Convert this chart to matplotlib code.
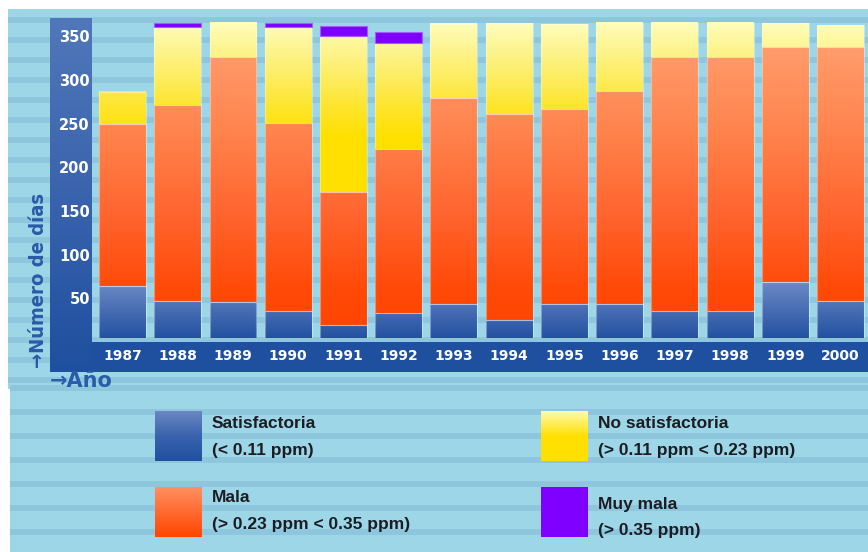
import numpy as np
import matplotlib
matplotlib.use("Agg")
import matplotlib.pyplot as plt
from matplotlib.colors import LinearSegmentedColormap
from matplotlib.patches import Rectangle

# Días por año según la calidad del aire
years = ["1987", "1988", "1989", "1990", "1991", "1992", "1993",
         "1994", "1995", "1996", "1997", "1998", "1999", "2000"]
satisfactoria = [64, 47, 46, 35, 19, 33, 43, 25, 44, 43, 35, 35, 69, 47]
mala = [185, 224, 280, 216, 153, 188, 236, 236, 223, 244, 291, 291, 269, 291]
no_satisfactoria = [37, 89, 39, 109, 178, 121, 85, 104, 97, 78, 39, 39, 27, 25]
muy_mala = [0, 5, 0, 5, 12, 13, 0, 0, 0, 0, 0, 0, 0, 0]

y_ticks = [50, 100, 150, 200, 250, 300, 350]

legend_names = ["Satisfactoria", "No satisfactoria", "Mala", "Muy mala"]
legend_ranges = ["(< 0.11 ppm)", "(> 0.11 ppm < 0.23 ppm)",
                 "(> 0.23 ppm < 0.35 ppm)", "(> 0.35 ppm)"]

W, H = 868, 552
fig = plt.figure(figsize=(W / 100, H / 100), dpi=100, facecolor="white")

# ---- background layer in pixel coordinates ----
bg = fig.add_axes([0, 0, 1, 1], zorder=0)
bg.set_xlim(0, W)
bg.set_ylim(H, 0)
bg.axis("off")

LIGHT = "#9dd7e7"
STRIPE = "#8ec7dd"
bg.add_patch(Rectangle((8, 9), W - 8, 380, color=LIGHT, lw=0))
bg.add_patch(Rectangle((10, 389), W - 10, H - 389, color=LIGHT, lw=0))
for yc in np.arange(20, 390, 20):
    bg.add_patch(Rectangle((8, yc - 3), W - 8, 6, color=STRIPE, lw=0))
for yc in np.arange(388, H + 10, 24):
    bg.add_patch(Rectangle((10, yc - 3), W - 10, 6, color=STRIPE, lw=0))


def vgrad(axis, extent, colors, zorder=1):
    """Vertical gradient image; colors listed from top to bottom."""
    cm = LinearSegmentedColormap.from_list("g", colors)
    arr = np.linspace(0, 1, 128).reshape(-1, 1)
    axis.imshow(arr, cmap=cm, extent=extent, origin="upper", aspect="auto",
                interpolation="bilinear", zorder=zorder)


# axis frame (dark blue L shape)
bg.add_patch(Rectangle((50, 342), W - 50, 30, color="#1f4f9f", lw=0, zorder=1))
vgrad(bg, (50, 92, 372, 18), ["#5077b9", "#3a63ad", "#1f4f9f"], zorder=2)

bg.text(39, 280, "\u2192N\u00famero de d\u00edas", rotation=90, ha="center",
        va="center", color="#2a5aa8", fontsize=14.5, fontweight="bold",
        fontstretch="condensed", family="DejaVu Sans", zorder=3)
bg.text(50, 381, "\u2192A\u00f1o", ha="left", va="center", color="#2b5ca9",
        fontsize=15, fontweight="bold", family="DejaVu Sans", zorder=3)

# ---- legend ----
legend_boxes = [(155, 411), (541, 411), (155, 487), (541, 487)]
legend_fills = [["#6a87c2", "#3a63ad", "#2050a0"],
                ["#fffbb0", "#ffe000", "#ffe000"],
                ["#ff9060", "#ff6a30", "#ff4500"],
                ["#8000ff", "#8000ff"]]
text_offsets = [(13, 39), (13, 39), (11, 37), (17, 43)]
for (bx, by), fill, name, rng, (o1, o2) in zip(legend_boxes, legend_fills,
                                               legend_names, legend_ranges,
                                               text_offsets):
    vgrad(bg, (bx, bx + 47, by + 50, by), fill, zorder=2)
    bg.text(bx + 57, by + o1, name, ha="left", va="center", fontsize=12.5,
            fontweight="bold", color="#1c1c24", family="Liberation Sans",
            zorder=3)
    bg.text(bx + 57, by + o2, rng, ha="left", va="center", fontsize=12.5,
            fontweight="bold", color="#1c1c24", family="Liberation Sans",
            zorder=3)

# ---- chart axes ----
ax = fig.add_axes([95 / W, (H - 338) / H, 773 / W, 329 / H], zorder=1)
ax.patch.set_alpha(0)
for s in ax.spines.values():
    s.set_visible(False)

cm_sat = LinearSegmentedColormap.from_list(
    "sat", [(0, "#1e4d9e"), (1, "#6e8bc6")])
cm_mala = LinearSegmentedColormap.from_list(
    "mala", [(0, "#ff4300"), (60 / 345, "#ff4a08"), (150 / 345, "#ff6630"),
             (250 / 345, "#ff8650"), (1, "#ff9e6e")])
cm_nosat = LinearSegmentedColormap.from_list(
    "nosat", [(0, "#ffe000"), (235 / 366, "#ffe000"), (270 / 366, "#fee52e"),
              (300 / 366, "#fdec5c"), (330 / 366, "#fdf388"), (1, "#fffdbc")])

BAR_W = 0.85


def grad_segment(xc, y0, y1, cmap, hi):
    if y1 <= y0:
        return
    vals = np.clip(np.linspace(y0, y1, 128) / hi, 0, 1).reshape(-1, 1)
    ax.imshow(vals, cmap=cmap, vmin=0, vmax=1,
              extent=(xc - BAR_W / 2, xc + BAR_W / 2, y0, y1),
              origin="lower", aspect="auto", interpolation="bilinear", zorder=2)
    ax.add_patch(Rectangle((xc - BAR_W / 2, y0), BAR_W, y1 - y0, fill=False,
                           ec="white", lw=0.8, alpha=0.35, zorder=3))


for i in range(len(years)):
    b0 = 0
    b1 = b0 + satisfactoria[i]
    b2 = b1 + mala[i]
    b3 = b2 + no_satisfactoria[i]
    grad_segment(i, b0, b1, cm_sat, 70)
    grad_segment(i, b1, b2, cm_mala, 345)
    grad_segment(i, b2, b3, cm_nosat, 366)
    if muy_mala[i] > 0:
        ax.bar(i, muy_mala[i], bottom=b3, width=BAR_W, color="#8000ff",
               edgecolor="#a45cff", linewidth=0.8, zorder=3)

ax.set_xlim(-0.498, 13.496)
ax.set_ylim((342 - 338) / 0.874, (342 - 9) / 0.874)

ax.set_yticks(y_ticks, [str(v) for v in y_ticks])
ax.set_xticks(range(len(years)), years)
ax.tick_params(axis="y", length=0, pad=3.6, colors="white", labelsize=10.5)
ax.tick_params(axis="x", length=0, pad=13, colors="white", labelsize=10)
for lab in ax.get_xticklabels():
    lab.set_fontweight("bold")
    lab.set_verticalalignment("center")
for lab in ax.get_yticklabels():
    lab.set_fontweight("bold")

fig.savefig("out.png", dpi=100, facecolor="white")
